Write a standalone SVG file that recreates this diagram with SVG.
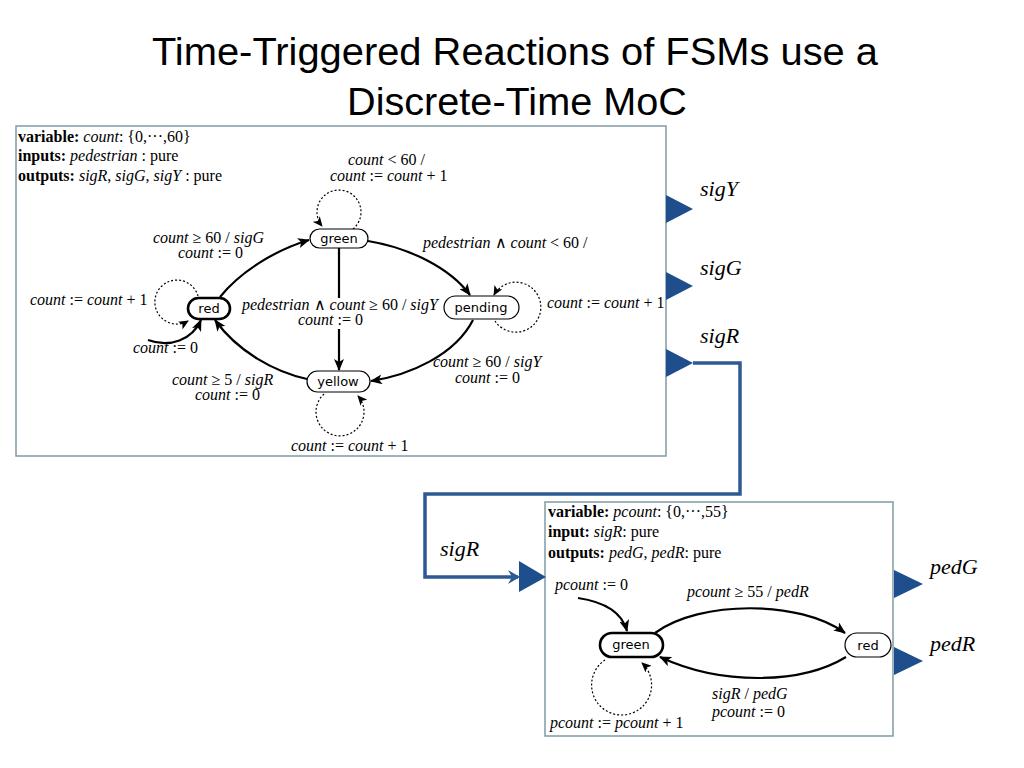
<svg xmlns="http://www.w3.org/2000/svg" width="1024" height="768" viewBox="0 0 1024 768">
<style>
.title{font-family:"Liberation Sans",Arial,sans-serif;font-size:38px;fill:#000;text-anchor:middle}
.frame{fill:#fff;stroke:#7f9aa5;stroke-width:1.5}
.st{fill:#fff;stroke:#000;stroke-width:1.2}
.st0{fill:#fff;stroke:#000;stroke-width:2.6}
.sn{font-family:"DejaVu Sans","Liberation Sans",sans-serif;font-size:13px;text-anchor:middle;fill:#000}
.m{font-family:"Liberation Serif","Times New Roman",serif;font-size:16px;fill:#000}
.i{font-style:italic}
.b{font-weight:bold}
.port{fill:#1f4e8c}
.pl{font-family:"Liberation Serif","Times New Roman",serif;font-size:22px;font-style:italic;fill:#000}
.tr{fill:none;stroke:#000;stroke-width:2.2}
.lp{fill:none;stroke:#000;stroke-width:1.2;stroke-dasharray:2 2}
.link{fill:none;stroke:#2c5a93;stroke-width:3.5}
.bg{fill:#fff}
</style>
<defs>
<marker id="ah" markerWidth="12" markerHeight="10" refX="11" refY="5" orient="auto" markerUnits="userSpaceOnUse">
<path d="M0,0 L12,5 L0,10 L3,5 z" fill="#000"/>
</marker>
<marker id="ahs" markerWidth="10" markerHeight="9" refX="9" refY="4.5" orient="auto" markerUnits="userSpaceOnUse">
<path d="M0,0 L10,4.5 L0,9 L2.5,4.5 z" fill="#000"/>
</marker>
<marker id="ahb" markerWidth="14" markerHeight="14" refX="10" refY="7" orient="auto" markerUnits="userSpaceOnUse">
<path d="M0,0 L12,7 L0,14 L4,7 z" fill="#2c5a93"/>
</marker>
</defs>

<text class="title" x="515" y="65" textLength="726" lengthAdjust="spacingAndGlyphs">Time-Triggered Reactions of FSMs use a</text>
<text class="title" x="517" y="115" textLength="340" lengthAdjust="spacingAndGlyphs">Discrete-Time MoC</text>

<g id="machine1">
<rect class="frame" x="16" y="126" width="650" height="330"/>
<text class="m" x="18" y="142"><tspan class="b">variable:</tspan> <tspan class="i">count</tspan>: {0,···,60}</text>
<text class="m" x="18" y="161"><tspan class="b">inputs:</tspan> <tspan class="i">pedestrian</tspan> : pure</text>
<text class="m" x="18" y="181"><tspan class="b">outputs:</tspan> <tspan class="i">sigR</tspan>, <tspan class="i">sigG</tspan>, <tspan class="i">sigY</tspan> : pure</text>
</g>

<g id="machine2">
<rect class="frame" x="545" y="502" width="348" height="234"/>
<text class="m" x="548" y="517"><tspan class="b">variable:</tspan> <tspan class="i">pcount</tspan>: {0,···,55}</text>
<text class="m" x="548" y="537"><tspan class="b">input:</tspan> <tspan class="i">sigR</tspan>: pure</text>
<text class="m" x="548" y="558"><tspan class="b">outputs:</tspan> <tspan class="i">pedG</tspan>, <tspan class="i">pedR</tspan>: pure</text>
</g>

<g id="connectors">
<path class="tr" d="M220 297 C240 272 275 250 309 240" marker-end="url(#ah)"/>
<path class="tr" d="M368 241 C410 248 450 268 470 295" marker-end="url(#ah)"/>
<path class="tr" d="M339 248 L339 370" marker-end="url(#ah)"/>
<path class="tr" d="M473 320 C455 355 410 375 371 381" marker-end="url(#ah)"/>
<path class="tr" d="M307 379 C275 372 238 352 215 320" marker-end="url(#ah)"/>
<path class="tr" d="M148 340 C170 348 192 340 201 320" marker-end="url(#ah)"/>
<path class="lp" d="M353 229 A22 22 0 1 0 322 226" marker-end="url(#ahs)"/>
<path class="lp" d="M198 296 A22 22 0 1 0 188 321" marker-end="url(#ahs)"/>
<path class="lp" d="M495 321 A25 25 0 1 0 494 295" marker-end="url(#ahs)"/>
<path class="lp" d="M324 394 A24 24 0 1 0 358 396" marker-end="url(#ahs)"/>
<path class="tr" d="M578 598 C605 602 622 612 627 631" marker-end="url(#ah)"/>
<path class="tr" d="M655 633 C700 600 800 600 845 633" marker-end="url(#ah)"/>
<path class="tr" d="M846 657 C800 685 720 685 660 657" marker-end="url(#ah)"/>
<path class="lp" d="M605 660 A30 30 0 1 0 642 663" marker-end="url(#ahs)"/>
<polyline class="link" points="693,363 740,363 740,494 425,494 425,577 518,577" marker-end="url(#ahb)"/>
</g>

<g id="labels">
<rect class="bg" x="300" y="298" width="78" height="31"/>
<text class="m" x="348" y="165"><tspan class="i">count</tspan> &lt; 60 /</text>
<text class="m" x="330" y="181"><tspan class="i">count</tspan> := <tspan class="i">count</tspan> + 1</text>
<text class="m" x="153" y="243"><tspan class="i">count</tspan> ≥ 60 / <tspan class="i">sigG</tspan></text>
<text class="m" x="178" y="258"><tspan class="i">count</tspan> := 0</text>
<text class="m" x="423" y="248"><tspan class="i">pedestrian</tspan> ∧ <tspan class="i">count</tspan> &lt; 60 /</text>
<text class="m" x="30" y="305"><tspan class="i">count</tspan> := <tspan class="i">count</tspan> + 1</text>
<text class="m" x="242" y="310"><tspan class="i">pedestrian</tspan> ∧ <tspan class="i">count</tspan> ≥ 60 / <tspan class="i">sigY</tspan></text>
<text class="m" x="298" y="325"><tspan class="i">count</tspan> := 0</text>
<text class="m" x="547" y="308"><tspan class="i">count</tspan> := <tspan class="i">count</tspan> + 1</text>
<text class="m" x="133" y="353"><tspan class="i">count</tspan> := 0</text>
<text class="m" x="433" y="367"><tspan class="i">count</tspan> ≥ 60 / <tspan class="i">sigY</tspan></text>
<text class="m" x="455" y="383"><tspan class="i">count</tspan> := 0</text>
<text class="m" x="172" y="385"><tspan class="i">count</tspan> ≥ 5 / <tspan class="i">sigR</tspan></text>
<text class="m" x="195" y="400"><tspan class="i">count</tspan> := 0</text>
<text class="m" x="291" y="451"><tspan class="i">count</tspan> := <tspan class="i">count</tspan> + 1</text>
<text class="m" x="555" y="590"><tspan class="i">pcount</tspan> := 0</text>
<text class="m" x="687" y="597"><tspan class="i">pcount</tspan> ≥ 55 / <tspan class="i">pedR</tspan></text>
<text class="m" x="712" y="699"><tspan class="i">sigR</tspan> / <tspan class="i">pedG</tspan></text>
<text class="m" x="712" y="717"><tspan class="i">pcount</tspan> := 0</text>
<text class="m" x="550" y="728"><tspan class="i">pcount</tspan> := <tspan class="i">pcount</tspan> + 1</text>
</g>

<g id="m1-green"><rect class="st" x="310" y="229" width="58" height="19" rx="9.5"/><text class="sn" x="339" y="243">green</text></g>
<g id="m1-red"><rect class="st0" x="188" y="298" width="42" height="21" rx="10.5"/><text class="sn" x="209" y="313">red</text></g>
<g id="m1-pending"><rect class="st" x="444" y="296" width="75" height="23" rx="11.5"/><text class="sn" x="481" y="312">pending</text></g>
<g id="m1-yellow"><rect class="st" x="307" y="371" width="63" height="21" rx="10.5"/><text class="sn" x="338" y="386">yellow</text></g>

<g id="m2-green"><rect class="st0" x="600" y="633" width="63" height="24" rx="12"/><text class="sn" x="631" y="649">green</text></g>
<g id="m2-red"><rect class="st" x="845" y="633" width="46" height="24" rx="12"/><text class="sn" x="868" y="650">red</text></g>

<g id="port-sigY"><polygon class="port" points="666,195 693,209 666,223"/><text class="pl" x="700" y="196">sigY</text></g>
<g id="port-sigG"><polygon class="port" points="666,272 693,286 666,300"/><text class="pl" x="700" y="275">sigG</text></g>
<g id="port-sigR"><polygon class="port" points="666,349 693,363 666,377"/><text class="pl" x="700" y="343">sigR</text></g>
<g id="port-in-sigR"><polygon class="port" points="519,561 546,577 519,592"/><text class="pl" x="440" y="556">sigR</text></g>
<g id="port-pedG"><polygon class="port" points="894,570 923,584 894,598"/><text class="pl" x="930" y="574">pedG</text></g>
<g id="port-pedR"><polygon class="port" points="894,647 923,661 894,675"/><text class="pl" x="930" y="651">pedR</text></g>
</svg>
